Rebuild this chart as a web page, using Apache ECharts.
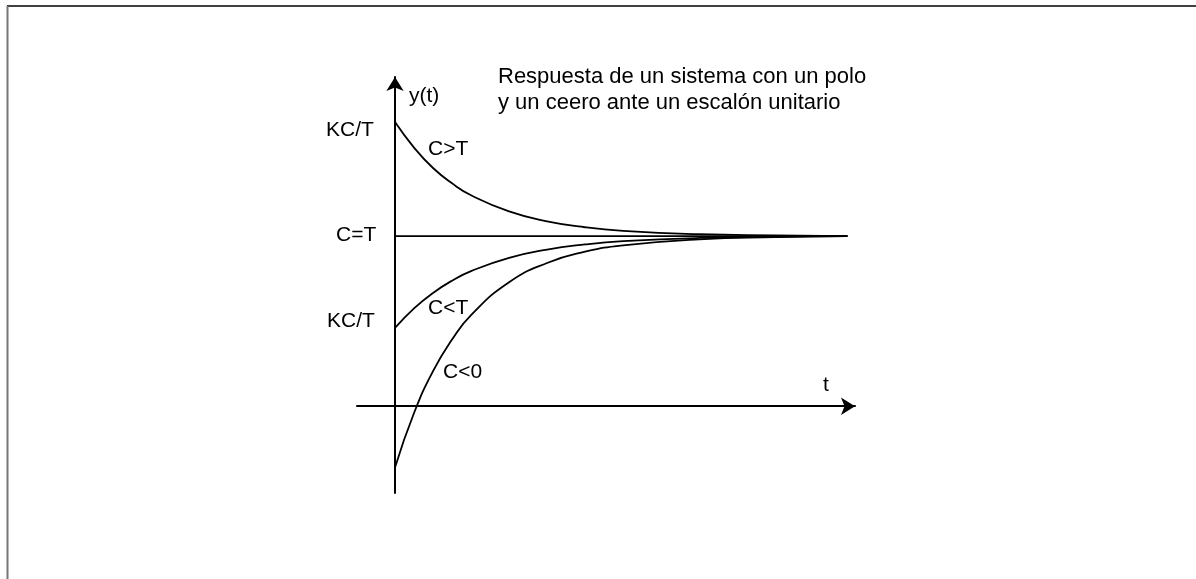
<!DOCTYPE html>
<html>
<head>
    <meta charset="utf-8" />
    <title></title>
    <script type="text/javascript" src="https://cdn.jsdelivr.net/npm/echarts@6/dist/echarts.min.js"></script>
    <style>
        html, body { margin: 0; padding: 0; background: #fff; }
        #con1 { width: 1196px; height: 579px; }
    </style>
</head>
<body>
    <div id="con1"></div>
    <script type="text/javascript">
        // tiempo (unidades arbitrarias) y respuestas
        var tiempo = [0, 0.25, 0.5, 0.75, 1, 1.5, 2, 2.5, 3, 4, 5, 5.95];
        var cMayorT = [1.67, 1.52, 1.40, 1.31, 1.24, 1.145, 1.087, 1.052, 1.031, 1.011, 1.004, 1.0];
        var cMenorT = [0.46, 0.575, 0.666, 0.738, 0.794, 0.872, 0.921, 0.951, 0.970, 0.989, 0.996, 1.0];
        var cMenor0 = [-0.36, -0.04, 0.206, 0.392, 0.536, 0.729, 0.842, 0.908, 0.946, 0.981, 0.994, 1.0];
        var cIgualT = [1, 1];
        var tIgualT = [0, 5.95];
        var nivelLabels = ['KC/T', 'C=T', 'KC/T'];
        var curvaLabels = ['C>T', 'C<T', 'C<0'];
        var titulo = ['Respuesta de un sistema con un polo', 'y un ceero ante un escalón unitario'];

        function pares(xs, ys) {
            return xs.map(function (x, i) { return [x, ys[i]]; });
        }

        var fuente = '"Liberation Sans", Arial, sans-serif';
        function texto(t, x, y, size) {
            return {
                type: 'text', left: x, top: y, silent: true,
                style: { text: t, fill: '#000', font: (size || 20) + 'px ' + fuente }
            };
        }

        var ejeLinea = { color: '#000', width: 2 };
        var curva = { color: '#000', width: 1.8 };

        var myChart1 = echarts.init(document.getElementById('con1'));
        var option1 = {
            backgroundColor: '#fff',
            animation: false,
            grid: { left: 357, right: 341, top: 77, bottom: 86 },
            xAxis: {
                type: 'value', min: -0.5, max: 6.05,
                axisLine: { onZero: true, symbol: ['none', 'arrow'], symbolSize: [13, 14], lineStyle: ejeLinea },
                axisTick: { show: false }, axisLabel: { show: false }, splitLine: { show: false }
            },
            yAxis: {
                type: 'value', min: -0.51, max: 1.935,
                axisLine: { onZero: true, symbol: ['none', 'arrow'], symbolSize: [13, 14], lineStyle: ejeLinea },
                axisTick: { show: false }, axisLabel: { show: false }, splitLine: { show: false }
            },
            series: [
                { type: 'line', data: pares(tiempo, cMayorT), smooth: true, showSymbol: false, silent: true, lineStyle: curva },
                { type: 'line', data: pares(tIgualT, cIgualT), showSymbol: false, silent: true, lineStyle: curva },
                { type: 'line', data: pares(tiempo, cMenorT), smooth: true, showSymbol: false, silent: true, lineStyle: curva },
                { type: 'line', data: pares(tiempo, cMenor0), smooth: true, showSymbol: false, silent: true, lineStyle: curva }
            ],
            graphic: [
                { type: 'line', silent: true, shape: { x1: 7, y1: 6, x2: 1196, y2: 6 }, style: { stroke: '#000', lineWidth: 1.5 } },
                { type: 'line', silent: true, shape: { x1: 7.5, y1: 6, x2: 7.5, y2: 579 }, style: { stroke: '#777', lineWidth: 2 } },
                texto(nivelLabels[0], 326, 120, 21),
                texto(nivelLabels[1], 336, 225, 21),
                texto(nivelLabels[2], 327, 311, 21),
                texto(curvaLabels[0], 428, 139, 21),
                texto(curvaLabels[1], 428, 298, 21),
                texto(curvaLabels[2], 443, 362, 21),
                texto('y(t)', 409, 86, 21),
                texto('t', 823, 375, 21),
                texto(titulo[0], 498, 66, 22),
                texto(titulo[1], 498, 92, 22)
            ]
        };
        option1 && myChart1.setOption(option1);
    </script>
</body>
</html>
